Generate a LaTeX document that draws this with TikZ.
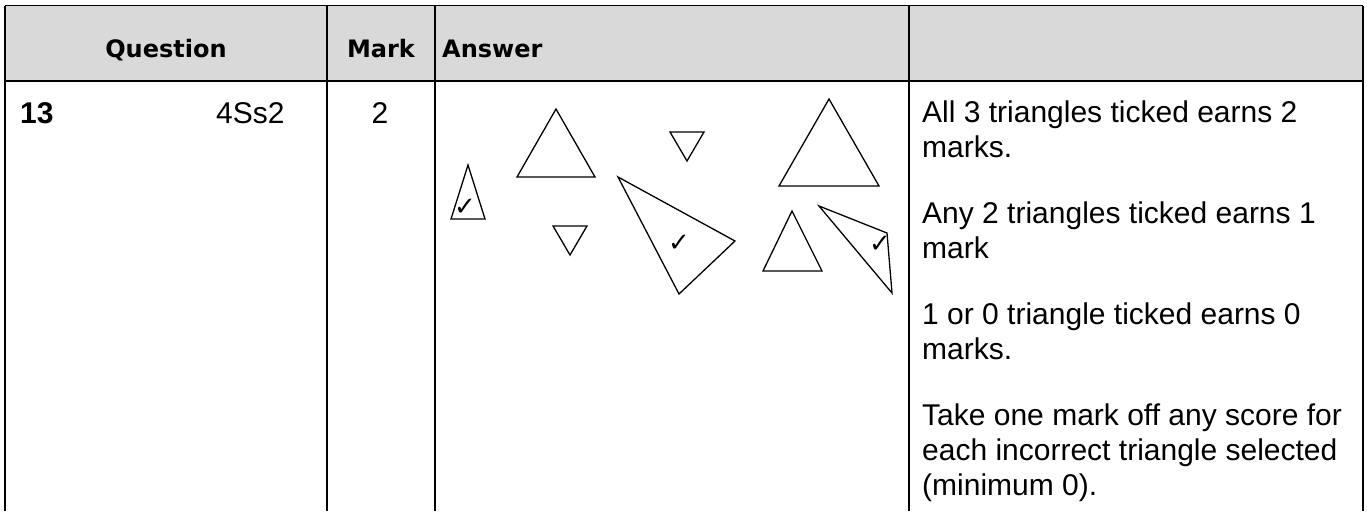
\documentclass[tikz,border=0pt]{standalone}
\usepackage{fontspec}
\setmainfont{Liberation Sans}
\newfontfamily\headfont{DejaVu Sans}
\newfontfamily\tickfont{DejaVu Sans}
\usepackage{tikz}
\usetikzlibrary{positioning}
\definecolor{headgray}{RGB}{217,217,217}

\begin{document}
\begin{tikzpicture}[x=1pt, y=-1pt,
    rule/.style={line width=1.7pt},
    thinrule/.style={line width=1pt},
    head/.style={font=\headfont\bfseries\fontsize{24}{28}\selectfont, inner sep=0pt, anchor=base},
    cell/.style={font=\fontsize{30}{35}\selectfont, inner sep=0pt, anchor=base west},
    tri/.style={line width=1.3pt, line join=miter},
    tick/.style={font=\tickfont\fontsize{26}{26}\selectfont, inner sep=0pt}
]

\useasboundingbox (0,0) rectangle (1367,511);

% Header band
\fill[headgray] (5,6) rectangle (1363,81);

% Table rules
\draw[thinrule] (5,6) -- (1363,6);
\draw[rule] (5,81) -- (1363,81);
\foreach \x in {5,327,435,909,1363}
    \draw[rule] (\x,6) -- (\x,511);

% Header
\node[head] (question) at (166,57) {Question};
\node[head] (mark) at (381,57) {Mark};
\node[head, anchor=base west] (answer) at (442,57) {Answer};

% Row 13
\node[cell, font=\bfseries\fontsize{30}{35}\selectfont] (qnum) at (20,123) {13};
\node[cell] (qcode) at (216,123) {4Ss2};
\node[cell, anchor=base] (qmark) at (380,123) {2};

% Triangles (answer)
\draw[tri] (468,165) -- (451,219) -- (485,219) -- cycle;
\draw[tri] (556,109) -- (517,177) -- (595,177) -- cycle;
\draw[tri] (670,132) -- (704,132) -- (687,161) -- cycle;
\draw[tri] (553,226) -- (587,226) -- (570,255) -- cycle;
\draw[tri] (618,177) -- (735,241) -- (679,294) -- cycle;
\draw[tri] (829,99) -- (779,186) -- (879,186) -- cycle;
\draw[tri] (792,211) -- (763,271) -- (822,271) -- cycle;
\draw[tri] (819,206) -- (887,233) -- (892,293) -- cycle;

% Ticks
\node[tick] (tick1) at (465,207) {✓};
\node[tick] (tick2) at (679,243) {✓};
\node[tick] (tick3) at (880,244) {✓};

% Marking notes
\node[cell] (rule1a) at (922,122) {All 3 triangles ticked earns 2};
\node[cell] (rule1b) at (922,157) {marks.};
\node[cell] (rule2a) at (922,223) {Any 2 triangles ticked earns 1};
\node[cell] (rule2b) at (922,258) {mark};
\node[cell] (rule3a) at (922,324) {1 or 0 triangle ticked earns 0};
\node[cell] (rule3b) at (922,359) {marks.};
\node[cell] (rule4a) at (922,425) {Take one mark off any score for};
\node[cell] (rule4b) at (922,460) {each incorrect triangle selected};
\node[cell] (rule4c) at (922,495) {(minimum 0).};

\end{tikzpicture}
\end{document}
